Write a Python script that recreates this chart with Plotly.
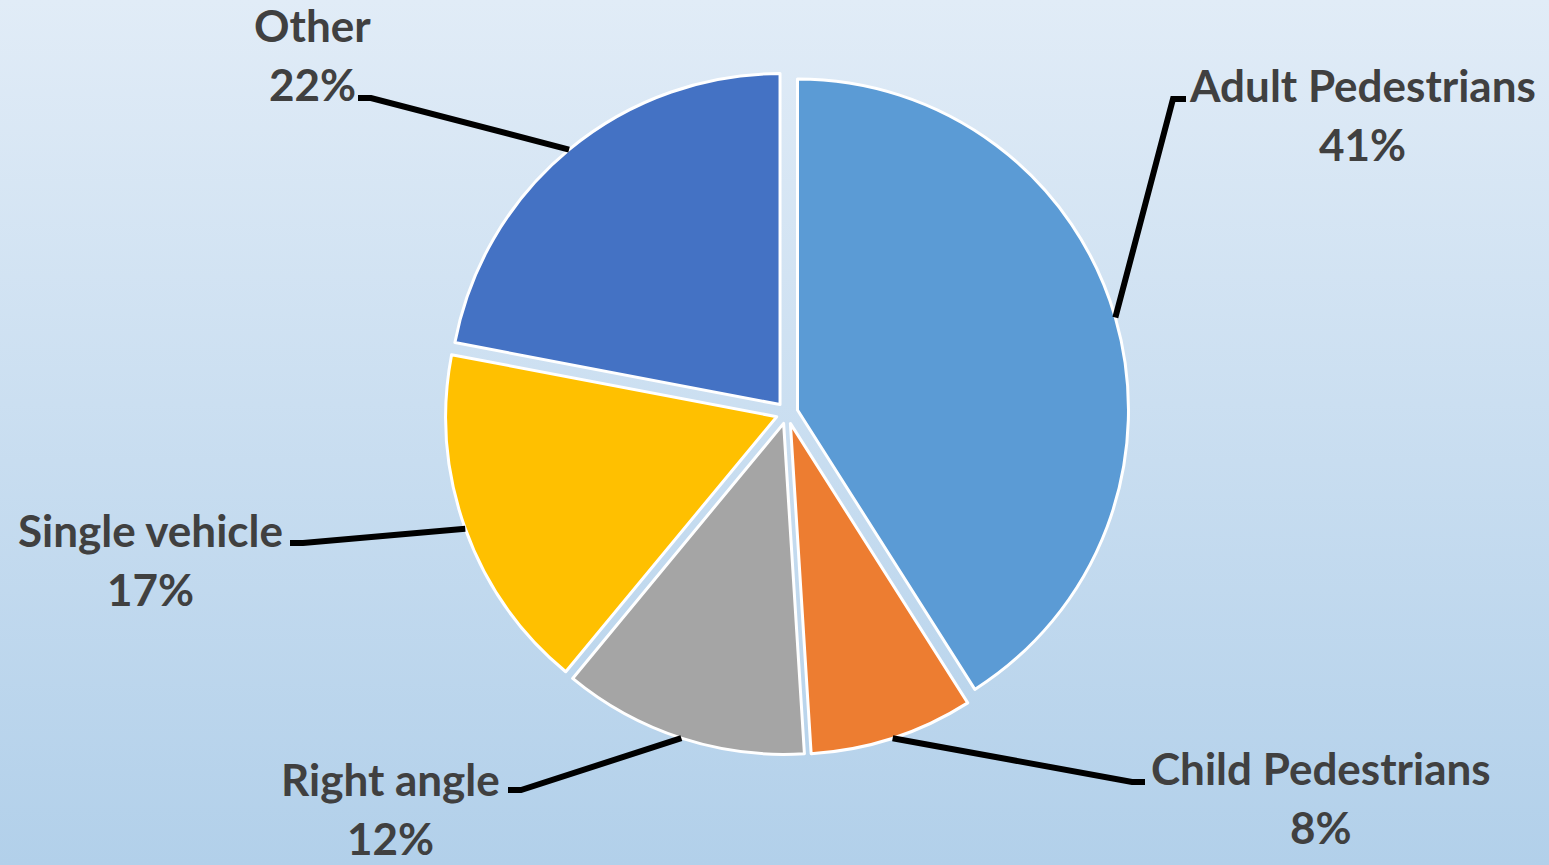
import base64
import math
import plotly.graph_objects as go

# slice data, clockwise from 12 o'clock
labels = ["Adult Pedestrians", "Child Pedestrians", "Right angle", "Single vehicle", "Other"]
values = [41, 8, 12, 17, 22]
colors = ["#5B9BD5", "#ED7D31", "#A5A5A5", "#FFC000", "#4472C4"]

W, H = 1549, 865
cx, cy = 787, 413      # pie centre, px
r = 331                # slice radius, px
pull = 0.033
outer = r * (1 + pull)

# label placement (px): centre of first text line, end of leader stub
label_pos = [(1362, 85), (1321, 768), (391, 779), (150, 530), (312, 25)]
stub_end = [(1186, 99), (1145, 782), (508, 790), (290, 543), (358, 98)]


def px(x, y):
    return x / W, 1 - y / H


# gradient background as an svg image
svg = (
    f'<svg xmlns="http://www.w3.org/2000/svg" width="{W}" height="{H}" '
    f'viewBox="0 0 {W} {H}" preserveAspectRatio="none">'
    '<defs><linearGradient id="g" x1="0" y1="0" x2="0" y2="1">'
    '<stop offset="0" stop-color="#E1ECF7"/><stop offset="1" stop-color="#B2D0EA"/>'
    '</linearGradient></defs>'
    f'<rect width="{W}" height="{H}" fill="url(#g)"/></svg>'
)
bg = "data:image/svg+xml;base64," + base64.b64encode(svg.encode()).decode()

fig = go.Figure(
    go.Pie(
        labels=labels,
        values=values,
        sort=False,
        direction="clockwise",
        rotation=0,
        pull=pull,
        textinfo="none",
        hoverinfo="label+percent",
        marker=dict(colors=colors, line=dict(color="white", width=3)),
        domain=dict(
            x=[(cx - 420) / W, (cx + 420) / W],
            y=[1 - (cy + outer) / H, 1 - (cy - outer) / H],
        ),
        showlegend=False,
    )
)

font = dict(family="Lato", size=44, color="#404040", weight="bold")
total = sum(values)
cum = 0
shapes = []
annotations = []
for name, v, (lx, ly), (ex, ey) in zip(labels, values, label_pos, stub_end):
    mid = math.radians((cum + v / 2) / total * 360)
    cum += v
    ux, uy = math.sin(mid), -math.cos(mid)
    ax, ay = cx + (r * pull + r) * ux, cy + (r * pull + r) * uy
    bx = ex - 13 if ex > cx else ex + 13
    p0, p1, p2 = px(ax, ay), px(bx, ey), px(ex, ey)
    shapes.append(dict(
        type="path", xref="paper", yref="paper",
        path=f"M {p0[0]},{p0[1]} L {p1[0]},{p1[1]} L {p2[0]},{p2[1]}",
        line=dict(color="black", width=6),
    ))
    for text, yy in ((name, ly), (f"{v}%", ly + 59)):
        x, y = px(lx, yy)
        annotations.append(dict(
            text=text, x=x, y=y, xref="paper", yref="paper",
            xanchor="center", yanchor="middle", showarrow=False, font=font,
        ))

fig.update_layout(
    width=W,
    height=H,
    margin=dict(l=0, r=0, t=0, b=0),
    paper_bgcolor="#C8DDF1",
    images=[dict(source=bg, xref="paper", yref="paper", x=0, y=1, sizex=1, sizey=1,
                 xanchor="left", yanchor="top", sizing="stretch", layer="below")],
    shapes=shapes,
    annotations=annotations,
)
fig.write_html(
    "out.html",
    config={"displayModeBar": False},
    post_script="document.body.style.margin='0';document.body.style.overflow='hidden';",
)
